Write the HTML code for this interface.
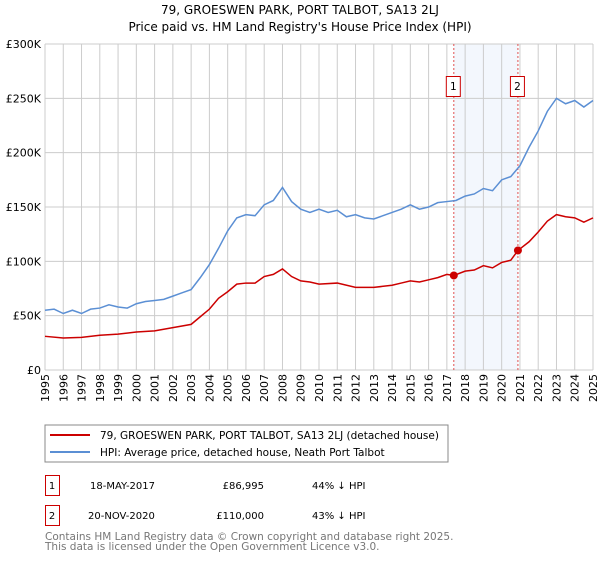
<!DOCTYPE html>
<html><head><meta charset="utf-8"><style>
body{margin:0;background:#fff;font-family:"DejaVu Sans","Liberation Sans",sans-serif}
svg text{font-family:"DejaVu Sans","Liberation Sans",sans-serif}
</style></head><body>
<svg id="c" width="600" height="560" xmlns="http://www.w3.org/2000/svg">
<text x="300" y="14" text-anchor="middle" font-size="12">79, GROESWEN PARK, PORT TALBOT, SA13 2LJ</text>
<text x="300" y="31" text-anchor="middle" font-size="12">Price paid vs. HM Land Registry's House Price Index (HPI)</text>
<g id="grid"></g><g id="series"></g><g id="axes"></g>
<rect x="45" y="425" width="403" height="37" fill="#fff" stroke="#888"/>
<line x1="50" y1="435" x2="90" y2="435" stroke="#cc0000" stroke-width="2"/>
<text x="100" y="439" font-size="10.5">79, GROESWEN PARK, PORT TALBOT, SA13 2LJ (detached house)</text>
<line x1="50" y1="452" x2="90" y2="452" stroke="#5b8fd4" stroke-width="2"/>
<text x="100" y="456" font-size="10.5">HPI: Average price, detached house, Neath Port Talbot</text>
<rect x="45.5" y="475.5" width="14" height="20" fill="#fff" stroke="#cc0000"/>
<text x="52" y="489" font-size="10" text-anchor="middle">1</text>
<text x="90" y="489" font-size="10">18-MAY-2017</text>
<text x="264" y="489" font-size="10" text-anchor="end">£86,995</text>
<text x="312" y="489" font-size="10">44% ↓ HPI</text>
<rect x="45.5" y="505.5" width="14" height="20" fill="#fff" stroke="#cc0000"/>
<text x="52" y="519" font-size="10" text-anchor="middle">2</text>
<text x="88" y="519" font-size="10">20-NOV-2020</text>
<text x="264" y="519" font-size="10" text-anchor="end">£110,000</text>
<text x="312" y="519" font-size="10">43% ↓ HPI</text>
<text x="45" y="540" font-size="10.5" fill="#777">Contains HM Land Registry data © Crown copyright and database right 2025.</text>
<text x="45" y="550" font-size="10.5" fill="#777">This data is licensed under the Open Government Licence v3.0.</text>
</svg>
<script>
const years=[1995,1996,1997,1998,1999,2000,2001,2002,2003,2004,2005,2006,2007,2008,2009,2010,2011,2012,2013,2014,2015,2016,2017,2018,2019,2020,2021,2022,2023,2024,2025];
const yTicks=[0,50000,100000,150000,200000,250000,300000];
const yLabels=["£0","£50K","£100K","£150K","£200K","£250K","£300K"];
const hpiT=[1995,1995.5,1996,1996.5,1997,1997.5,1998,1998.5,1999,1999.5,2000,2000.5,2001,2001.5,2002,2002.5,2003,2003.5,2004,2004.5,2005,2005.5,2006,2006.5,2007,2007.5,2008,2008.5,2009,2009.5,2010,2010.5,2011,2011.5,2012,2012.5,2013,2013.5,2014,2014.5,2015,2015.5,2016,2016.5,2017,2017.5,2018,2018.5,2019,2019.5,2020,2020.5,2021,2021.5,2022,2022.5,2023,2023.5,2024,2024.5,2025];
const hpiV=[55,56,52,55,52,56,57,60,58,57,61,63,64,65,68,71,74,85,97,112,128,140,143,142,152,156,168,155,148,145,148,145,147,141,143,140,139,142,145,148,152,148,150,154,155,156,160,162,167,165,175,178,188,205,220,238,250,245,248,242,248];
const ppT=[1995,1996,1997,1998,1999,2000,2001,2002,2003,2003.5,2004,2004.5,2005,2005.5,2006,2006.5,2007,2007.5,2008,2008.5,2009,2009.5,2010,2011,2012,2013,2014,2014.5,2015,2015.5,2016,2016.5,2017,2017.38,2018,2018.5,2019,2019.5,2020,2020.5,2020.89,2021.5,2022,2022.5,2023,2023.5,2024,2024.5,2025];
const ppV=[31,29.5,30,32,33,35,36,39,42,49,56,66,72,79,80,80,86,88,93,86,82,81,79,80,76,76,78,80,82,81,83,85,88,87,91,92,96,94,99,101,110,118,127,137,143,141,140,136,140];
const saleT=[2017.38,2020.89];
const saleV=[86.995,110];
const saleLabels=["1","2"];
const X=t=>45+(t-1995)*(548/30);
const Y=v=>370-v*326/300000;
const NS="http://www.w3.org/2000/svg";
function mk(p,tag,a){const e=document.createElementNS(NS,tag);for(const k in a)e.setAttribute(k,a[k]);p.appendChild(e);return e;}
const g=document.getElementById('grid'),s=document.getElementById('series'),ax=document.getElementById('axes');
const band=mk(g,'rect',{x:X(saleT[0]),y:44,width:X(saleT[1])-X(saleT[0]),height:326,fill:'#eef3fc',opacity:0.7});


years.forEach(y=>{const l=mk(g,'line',{x1:X(y),x2:X(y),y1:44,y2:370,stroke:'#ccc'});


const t=mk(ax,'text',{x:0,y:0,'font-size':11,'text-anchor':'end',transform:`translate(${X(y)+4},374) rotate(-90)`});t.textContent=y;

});
yTicks.forEach((v,i)=>{const l=mk(g,'line',{x1:45,x2:593,y1:Y(v),y2:Y(v),stroke:'#ccc'});


const t=mk(ax,'text',{x:41,y:Y(v)+4,'font-size':11,'text-anchor':'end'});t.textContent=yLabels[i];

});
saleT.forEach((t,i)=>{const l=mk(s,'line',{x1:X(t),x2:X(t),y1:44,y2:370,stroke:'#e05050','stroke-dasharray':'2,2'});


const r=mk(s,'rect',{x:X(t)-7.5,y:76.5,width:14,height:20,fill:'#fff',stroke:'#cc0000'});


const tx=mk(s,'text',{x:X(t)-0.5,y:90,'font-size':10.5,'text-anchor':'middle'});tx.textContent=saleLabels[i];});
const hp=mk(s,'polyline',{points:hpiT.map((t,i)=>X(t)+','+Y(hpiV[i]*1000)).join(' '),fill:'none',stroke:'#5b8fd4','stroke-width':1.5});


const pp=mk(s,'polyline',{points:ppT.map((t,i)=>X(t)+','+Y(ppV[i]*1000)).join(' '),fill:'none',stroke:'#cc0000','stroke-width':1.5});


saleT.forEach((t,i)=>{const c=mk(s,'circle',{cx:X(t),cy:Y(saleV[i]*1000),r:4,fill:'#cc0000'});

});
</script>
</body></html>
